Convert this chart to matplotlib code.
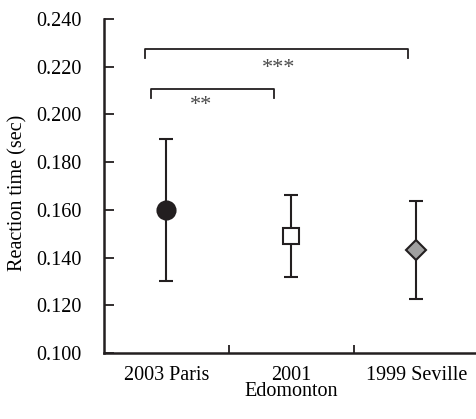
import numpy as np
import matplotlib.pyplot as plt

plt.rcParams['font.family'] = ['Liberation Serif', 'DejaVu Serif']

# Data
categories = ['2003 Paris', '2001\nEdomonton', '1999 Seville']
means = [0.160, 0.149, 0.1432]
upper_err = [0.0295, 0.0173, 0.0206]
lower_err = [0.0300, 0.0172, 0.0207]
markers = ['o', 's', 'D']
face_colors = ['#231f20', 'white', '#a0a0a0']
marker_sizes = [13, 11, 10]

# Significance brackets: (x_start, x_end, y, label, label_x, label_y)
brackets = [(-0.172, 1.932, 0.2273, '***', 0.90, 0.2192),
            (-0.126, 0.858, 0.2108, '**', 0.28, 0.2038)]

ink = '#231f20'

fig = plt.figure(figsize=(4.77, 4.19), dpi=100)
ax = fig.add_axes([0.218, 0.1575, 0.786, 0.7972])

x = np.arange(len(categories))
for i in range(len(categories)):
    ax.errorbar(x[i], means[i], yerr=[[lower_err[i]], [upper_err[i]]],
                fmt=markers[i], color=ink, ecolor=ink, elinewidth=1.5,
                capsize=5, capthick=1.5, markersize=marker_sizes[i],
                markerfacecolor=face_colors[i], markeredgecolor=ink,
                markeredgewidth=1.5, zorder=3)

# brackets
for x0, x1, y, label, lx, ly in brackets:
    ax.plot([x0, x0, x1, x1], [y - 0.0038, y, y, y - 0.0038], color=ink,
            lw=1.3, clip_on=False)
    ax.text(lx, ly, label, ha='center', va='center', fontsize=16,
            color='#4a4a4a')

ax.set_xlim(-0.5, 2.5)
ax.set_ylim(0.100, 0.240)
ax.set_yticks(np.arange(0.100, 0.2401, 0.020))
ax.set_yticklabels(['%.3f' % v for v in np.arange(0.100, 0.2401, 0.020)])
ax.set_xticks(x)
ax.set_xticklabels(categories, linespacing=0.85)
ax.set_xticks([0.5, 1.5], minor=True)
ax.tick_params(axis='x', which='major', length=0, pad=9, labelsize=14.5)
ax.tick_params(axis='x', which='minor', direction='in', length=6,
               width=1.3, color=ink)
ax.tick_params(axis='y', direction='in', length=7, width=1.3, color=ink,
               pad=16, labelsize=14.5)
ax.set_ylabel('Reaction time (sec)', fontsize=14.5)
ax.yaxis.set_label_coords(-0.205, 0.48)

ax.spines['top'].set_visible(False)
ax.spines['right'].set_visible(False)
for s in ['left', 'bottom']:
    ax.spines[s].set_linewidth(1.8)
    ax.spines[s].set_color(ink)

fig.savefig('out.png', dpi=100)
